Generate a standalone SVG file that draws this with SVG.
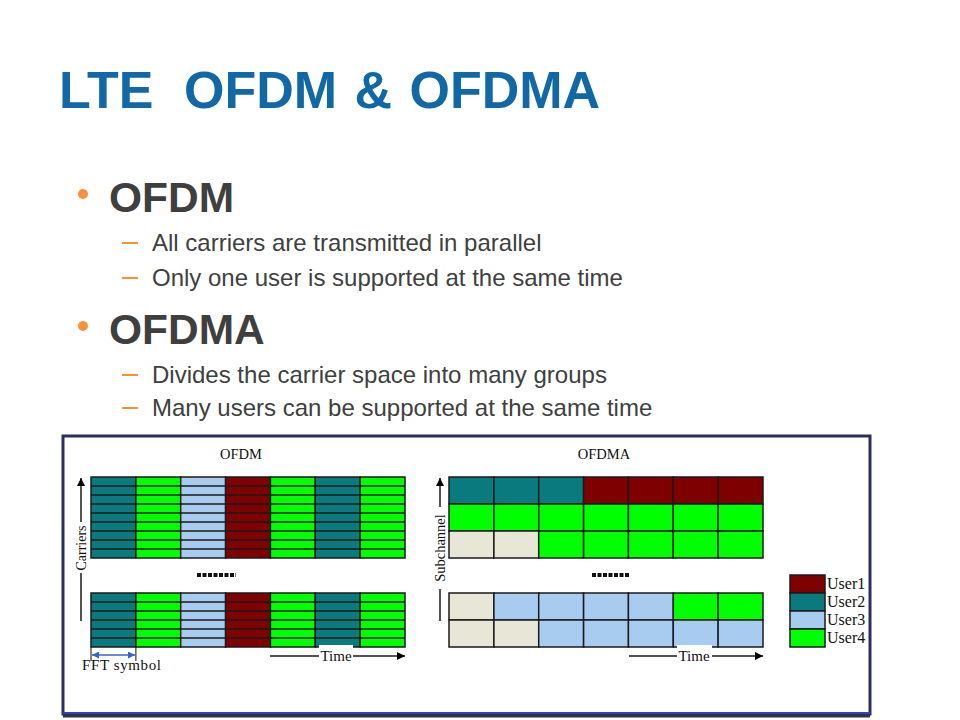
<svg xmlns="http://www.w3.org/2000/svg" width="960" height="720" viewBox="0 0 960 720">
<defs>
<style>
.title{font-family:"Liberation Sans",Arial,sans-serif;font-weight:bold;font-size:52px;fill:#1068A6}
.h1{font-family:"Liberation Sans",Arial,sans-serif;font-weight:bold;font-size:42.5px;fill:#3F3F3F}
.sub{font-family:"Liberation Sans",Arial,sans-serif;font-size:24px;fill:#404040}
.ser{font-family:"Liberation Serif","Times New Roman",serif;fill:#111}
.c{stroke:#1a1a1a;stroke-width:1.5}
.t{fill:#0B7A7E}.g{fill:#00FF00}.b{fill:#A8CBF0}.r{fill:#7F0000}.e{fill:#E8E6D6}
.ln{stroke:#1a1a1a;stroke-width:1.5;fill:none}
.dot{stroke:#111;stroke-width:4;stroke-dasharray:4 1.5}
</style>
<marker id="ah" viewBox="0 0 10 10" refX="10" refY="5" markerWidth="16" markerHeight="8" markerUnits="userSpaceOnUse" orient="auto">
<path d="M0,0 L10,5 L0,10 Z" fill="#000"/>
</marker>
<marker id="ahb" viewBox="0 0 10 10" refX="10" refY="5" markerWidth="8" markerHeight="7" markerUnits="userSpaceOnUse" orient="auto-start-reverse">
<path d="M0,0 L10,5 L0,10 Z" fill="#3366CC"/>
</marker>
</defs>
<rect width="960" height="720" fill="#fff"/>

<g id="title"><text class="title" x="59" y="108" xml:space="preserve" word-spacing="3">LTE<tspan x="184">OFDM &amp; OFDMA</tspan></text></g>

<g id="bullets">
<circle cx="83" cy="194" r="5" fill="#F7923A"/>
<text class="h1" x="109" y="212">OFDM</text>
<rect x="122" y="242" width="16" height="2" fill="#F7923A"/>
<text class="sub" x="152" y="251">All carriers are transmitted in parallel</text>
<rect x="122" y="277" width="16" height="2" fill="#F7923A"/>
<text class="sub" x="152" y="286">Only one user is supported at the same time</text>
<circle cx="83" cy="326" r="5" fill="#F7923A"/>
<text class="h1" x="109" y="344">OFDMA</text>
<rect x="122" y="374" width="16" height="2" fill="#F7923A"/>
<text class="sub" x="152" y="383">Divides the carrier space into many groups</text>
<rect x="122" y="407" width="16" height="2" fill="#F7923A"/>
<text class="sub" x="152" y="416">Many users can be supported at the same time</text>
</g>

<g id="frame">
<rect x="63" y="436" width="807" height="278" fill="#fff" stroke="#2E2E5E" stroke-width="3"/>
<line x1="63" y1="713" x2="870" y2="713" stroke="#3340C8" stroke-width="2"/>
<line x1="63" y1="716" x2="870" y2="716" stroke="#333344" stroke-width="3"/>
</g>

<g id="ofdm">
<text class="ser" x="241" y="459" font-size="14.5" text-anchor="middle">OFDM</text>
<g id="ofdm-top" class="c">
<rect class="t" x="91" y="477" width="44.9" height="81"/>
<rect class="g" x="135.9" y="477" width="44.9" height="81"/>
<rect class="b" x="180.7" y="477" width="44.9" height="81"/>
<rect class="r" x="225.6" y="477" width="44.9" height="81"/>
<rect class="g" x="270.4" y="477" width="44.9" height="81"/>
<rect class="t" x="315.3" y="477" width="44.9" height="81"/>
<rect class="g" x="360.1" y="477" width="44.9" height="81"/>
<path class="ln" d="M91,486H405M91,495H405M91,504H405M91,513H405M91,522H405M91,531H405M91,540H405M91,549H405"/>
</g>
<line class="dot" x1="197" y1="575" x2="236" y2="575"/>
<g id="ofdm-bot" class="c">
<rect class="t" x="91" y="593" width="44.9" height="54"/>
<rect class="g" x="135.9" y="593" width="44.9" height="54"/>
<rect class="b" x="180.7" y="593" width="44.9" height="54"/>
<rect class="r" x="225.6" y="593" width="44.9" height="54"/>
<rect class="g" x="270.4" y="593" width="44.9" height="54"/>
<rect class="t" x="315.3" y="593" width="44.9" height="54"/>
<rect class="g" x="360.1" y="593" width="44.9" height="54"/>
<path class="ln" d="M91,602H405M91,611H405M91,620H405M91,629H405M91,638H405"/>
</g>
</g>

<g id="ofdma">
<text class="ser" x="604" y="459" font-size="14.5" text-anchor="middle">OFDMA</text>
<g id="ofdma-top" class="c">
<rect class="t" x="449" y="477" width="44.9" height="27"/>
<rect class="t" x="493.9" y="477" width="44.9" height="27"/>
<rect class="t" x="538.7" y="477" width="44.9" height="27"/>
<rect class="r" x="583.6" y="477" width="44.9" height="27"/>
<rect class="r" x="628.4" y="477" width="44.9" height="27"/>
<rect class="r" x="673.3" y="477" width="44.9" height="27"/>
<rect class="r" x="718.1" y="477" width="44.9" height="27"/>
<rect class="g" x="449" y="504" width="44.9" height="27"/>
<rect class="g" x="493.9" y="504" width="44.9" height="27"/>
<rect class="g" x="538.7" y="504" width="44.9" height="27"/>
<rect class="g" x="583.6" y="504" width="44.9" height="27"/>
<rect class="g" x="628.4" y="504" width="44.9" height="27"/>
<rect class="g" x="673.3" y="504" width="44.9" height="27"/>
<rect class="g" x="718.1" y="504" width="44.9" height="27"/>
<rect class="e" x="449" y="531" width="44.9" height="27"/>
<rect class="e" x="493.9" y="531" width="44.9" height="27"/>
<rect class="g" x="538.7" y="531" width="44.9" height="27"/>
<rect class="g" x="583.6" y="531" width="44.9" height="27"/>
<rect class="g" x="628.4" y="531" width="44.9" height="27"/>
<rect class="g" x="673.3" y="531" width="44.9" height="27"/>
<rect class="g" x="718.1" y="531" width="44.9" height="27"/>
</g>
<line class="dot" x1="592" y1="575" x2="630" y2="575"/>
<g id="ofdma-bot" class="c">
<rect class="e" x="449" y="593" width="44.9" height="27"/>
<rect class="b" x="493.9" y="593" width="44.9" height="27"/>
<rect class="b" x="538.7" y="593" width="44.9" height="27"/>
<rect class="b" x="583.6" y="593" width="44.9" height="27"/>
<rect class="b" x="628.4" y="593" width="44.9" height="27"/>
<rect class="g" x="673.3" y="593" width="44.9" height="27"/>
<rect class="g" x="718.1" y="593" width="44.9" height="27"/>
<rect class="e" x="449" y="620" width="44.9" height="27"/>
<rect class="e" x="493.9" y="620" width="44.9" height="27"/>
<rect class="b" x="538.7" y="620" width="44.9" height="27"/>
<rect class="b" x="583.6" y="620" width="44.9" height="27"/>
<rect class="b" x="628.4" y="620" width="44.9" height="27"/>
<rect class="b" x="673.3" y="620" width="44.9" height="27"/>
<rect class="b" x="718.1" y="620" width="44.9" height="27"/>
</g>
</g>

<g id="legend">
<g class="c">
<rect class="r" x="790" y="575" width="35" height="18"/>
<rect class="t" x="790" y="593" width="35" height="18"/>
<rect class="b" x="790" y="611" width="35" height="18"/>
<rect class="g" x="790" y="629" width="35" height="18"/>
</g>
<text class="ser" x="827" y="589" font-size="16">User1</text>
<text class="ser" x="827" y="607" font-size="16">User2</text>
<text class="ser" x="827" y="625" font-size="16">User3</text>
<text class="ser" x="827" y="643" font-size="16">User4</text>
</g>

<g id="connectors">
<line class="ln" x1="81" y1="522" x2="81" y2="478" marker-end="url(#ah)"/>
<line class="ln" x1="81" y1="573" x2="81" y2="621"/>
<text class="ser" font-size="14" transform="translate(86,548) rotate(-90)" text-anchor="middle">Carriers</text>
<line class="ln" x1="440" y1="507" x2="440" y2="478" marker-end="url(#ah)"/>
<line class="ln" x1="440" y1="589" x2="440" y2="621"/>
<text class="ser" font-size="14.5" transform="translate(445,548) rotate(-90)" text-anchor="middle">Subchannel</text>

<line class="ln" x1="270" y1="656" x2="405" y2="656" marker-end="url(#ah)"/>
<rect x="319" y="645" width="34" height="18" fill="#fff"/>
<text class="ser" x="336" y="661" font-size="15" text-anchor="middle">Time</text>
<line class="ln" x1="629" y1="656" x2="763" y2="656" marker-end="url(#ah)"/>
<rect x="677" y="645" width="35" height="18" fill="#fff"/>
<text class="ser" x="694" y="661" font-size="15" text-anchor="middle">Time</text>

<line x1="91" y1="647" x2="91" y2="661" stroke="#111" stroke-width="1"/>
<line x1="135.9" y1="647" x2="135.9" y2="661" stroke="#111" stroke-width="1"/>
<line x1="92" y1="655" x2="135" y2="655" stroke="#3366CC" stroke-width="1.5" marker-start="url(#ahb)" marker-end="url(#ahb)"/>
<text class="ser" x="82" y="670" font-size="15" letter-spacing="0.6">FFT symbol</text>
</g>
</svg>
